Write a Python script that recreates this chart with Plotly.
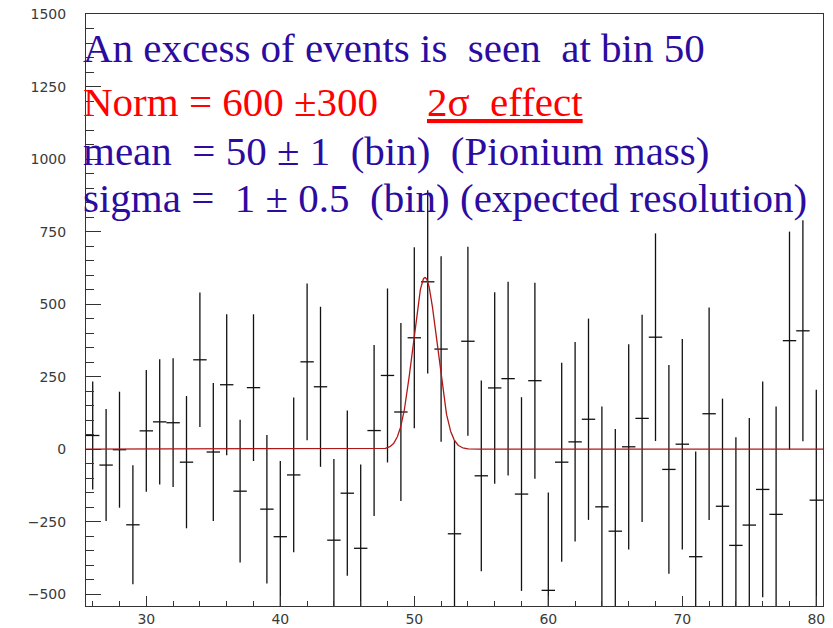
import numpy as np
import plotly.graph_objects as go

# ---- data ----
bins = list(range(26, 81))
counts = [47, -55, -2, -261, 63, 94, 91, -45, 308, -10,
          222, -145, 212, -207, -302, -89, 301, 215, -314, -152,
          -342, 64, 254, 128, 384, 577, 345, -292, 372, -92,
          211, 243, -155, 236, -487, -45, 25, 103, -199, -283,
          8, 106, 386, -70, 17, -371, 122, -197, -332, -262,
          -139, -225, 374, 408, -176]
errors = [186, 193, 200, 205, 210, 216, 222, 228, 232, 238,
          243, 246, 253, 256, 261, 267, 270, 276, 280, 285,
          289, 295, 300, 307, 312, 316, 320, 322, 326, 329,
          330, 334, 334, 338, 337, 343, 344, 347, 346, 352,
          354, 357, 358, 360, 363, 363, 366, 371, 373, 369,
          372, 372, 376, 381, 381]
bin_half_width = 0.5

# Gaussian fit parameters (as drawn)
FIT_NORM = 592.0
FIT_MEAN = 50.8
FIT_SIGMA = 0.9
x_lo, x_hi = 25.5, 80.5

text_lines = [
    "An excess of events is\u00a0 seen\u00a0 at bin 50",
    "Norm = 600 \u00b1300",
    "mean\u00a0 = 50 \u00b1 1\u00a0 (bin)\u00a0 (Pionium mass)",
    "sigma =\u00a0 1 \u00b1 0.5\u00a0 (bin) (expected resolution)",
]
effect_text = "2\u03c3\u00a0 effect"

# ---- figure ----
W, H = 833, 628
ml, mr, mt, mb = 86, 10, 14, 22
pw, ph = W - ml - mr, H - mt - mb

fig = go.Figure()
fig.add_trace(go.Scatter(
    x=bins, y=counts, mode="markers",
    marker=dict(size=1, color="black", opacity=0),
    error_y=dict(type="data", array=errors, symmetric=True, width=0,
                 thickness=1.3, color="#111111"),
    error_x=dict(type="constant", value=bin_half_width, width=0,
                 thickness=1.3, color="#111111"),
    showlegend=False, hoverinfo="skip",
))

xf = np.linspace(x_lo, x_hi, 2201)
yf = FIT_NORM * np.exp(-0.5 * ((xf - FIT_MEAN) / FIT_SIGMA) ** 2)
fig.add_trace(go.Scatter(x=xf, y=yf, mode="lines",
                         line=dict(color="#b01818", width=1.3),
                         showlegend=False, hoverinfo="skip"))

def px_x(p):
    return (p - ml) / pw

def px_y(p):
    return (mt + ph - p) / ph

blue = "#2c0ca0"
red = "#ff0000"
serif = "Liberation Serif"
fs = 41
centers = [48.2, 101.5, 150.5, 198.5]
colors = [blue, red, blue, blue]
anns = []
for t, c, col in zip(text_lines, centers, colors):
    anns.append(dict(text=t, xref="paper", yref="paper", x=px_x(81), y=px_y(c),
                     xanchor="left", yanchor="middle", showarrow=False,
                     font=dict(family=serif, size=fs, color=col)))
anns.append(dict(text="<u>" + effect_text + "</u>", xref="paper", yref="paper",
                 x=px_x(425), y=px_y(centers[1]), xanchor="left", yanchor="middle",
                 showarrow=False, font=dict(family=serif, size=fs, color=red)))

tickfont = dict(family="DejaVu Sans", size=14, color="#3a3a3a")
fig.update_layout(
    width=W, height=H,
    margin=dict(l=ml, r=mr, t=mt, b=mb, pad=0, autoexpand=False),
    paper_bgcolor="white", plot_bgcolor="white",
    annotations=anns,
    xaxis=dict(range=[x_lo, x_hi], showgrid=False, zeroline=False, automargin=False,
               showline=True, linecolor="#333333", linewidth=1, mirror=True,
               ticks="inside", ticklen=10, tickcolor="#333333", tickwidth=1,
               dtick=10, tick0=0, tickfont=tickfont, ticklabelstandoff=0,
               minor=dict(dtick=2, ticks="inside", ticklen=5, tickcolor="#333333", tickwidth=1)),
    yaxis=dict(range=[-541, 1500.5], showgrid=False, zeroline=False, automargin=False,
               showline=True, linecolor="#333333", linewidth=1, mirror=True,
               ticks="inside", ticklen=15, tickcolor="#333333", tickwidth=1,
               dtick=250, tick0=0, tickfont=tickfont, ticklabelstandoff=16,
               minor=dict(dtick=50, ticks="inside", ticklen=8, tickcolor="#333333", tickwidth=1)),
)

fig.write_html("out.html")
